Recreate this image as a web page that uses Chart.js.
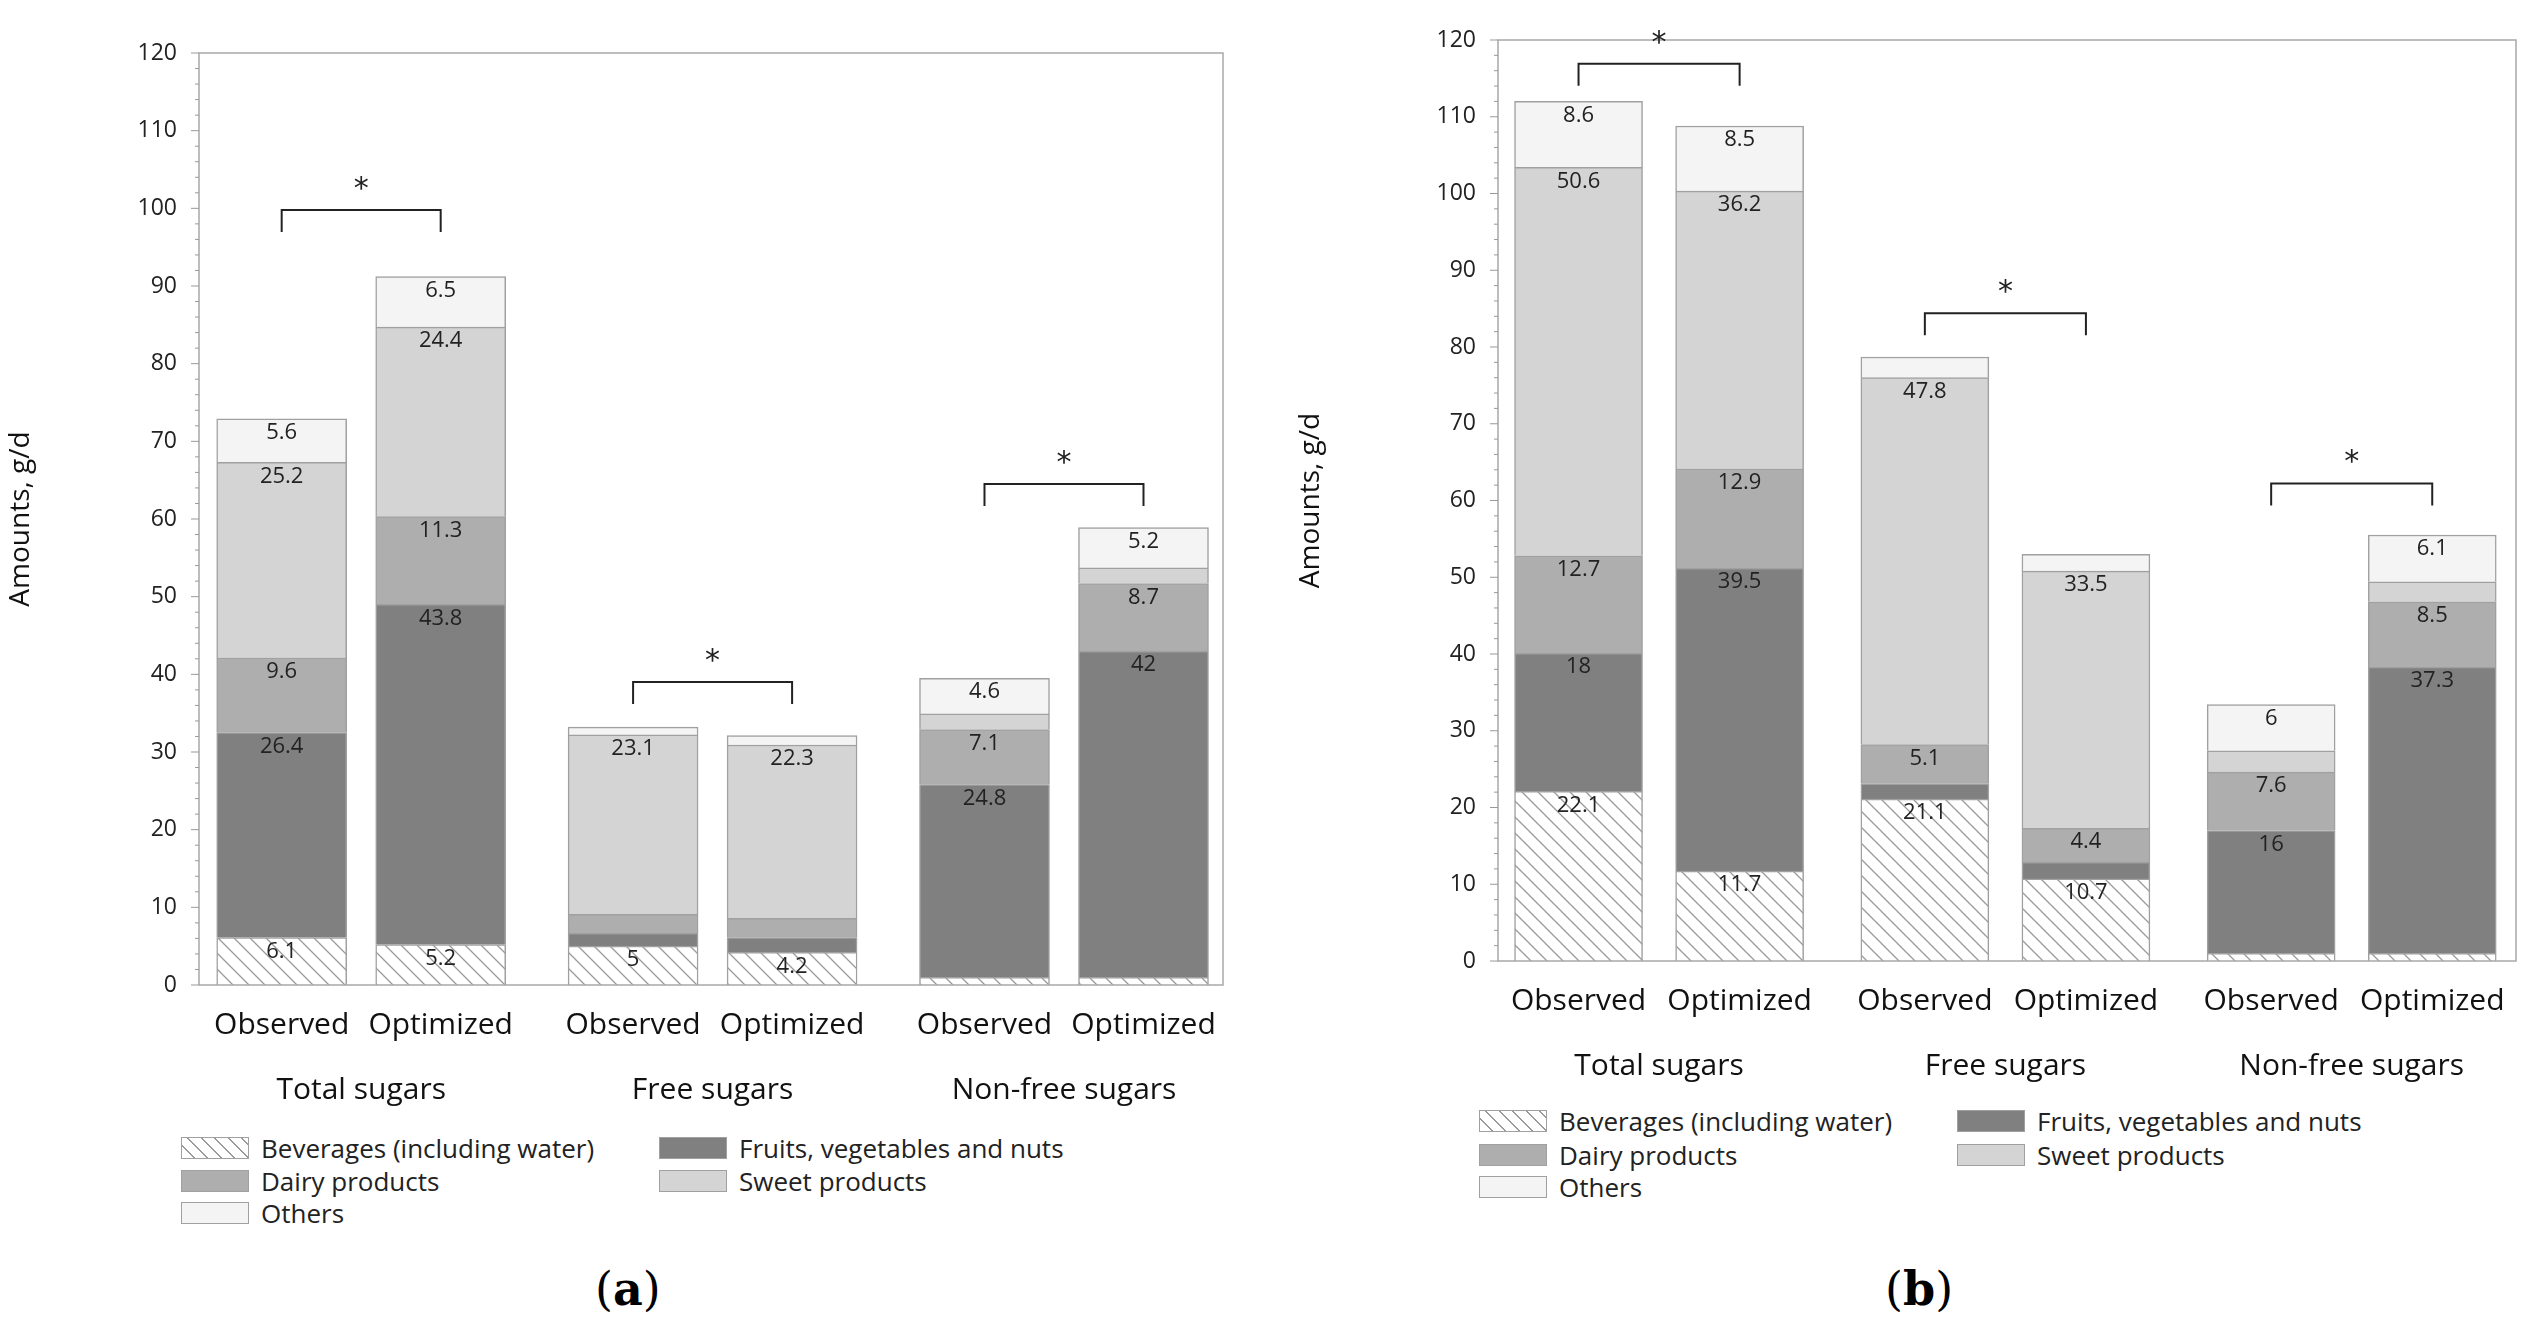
<!DOCTYPE html>
<html><head><meta charset="utf-8">
<script src="https://cdn.jsdelivr.net/npm/chart.js@4"></script>
<style>
body{margin:0;background:#fff;width:2533px;height:1339px;position:relative;overflow:hidden;font-family:"Open Sans",sans-serif;}
canvas{position:absolute;}
.leg{position:absolute;font-size:26px;color:#222;display:flex;align-items:center;}
.sw{width:68px;height:22px;border:1.5px solid #a0a0a0;box-sizing:border-box;margin-right:12px;}
.cap{position:absolute;font-family:"DejaVu Serif",serif;font-size:46px;color:#000;}
</style></head><body>
<div id="wa" style="position:absolute;left:0;top:0;width:1250px;height:1120px"><canvas id="ca"></canvas></div>
<div id="wb" style="position:absolute;left:1290px;top:0;width:1243px;height:1100px"><canvas id="cb"></canvas></div>
<div class="cap" style="left:595px;top:1262px">(<b>a</b>)</div>
<div class="cap" style="left:1885px;top:1262px">(<b>b</b>)</div>
<script>
const seriesNames=['Beverages (including water)','Fruits, vegetables and nuts','Dairy products','Sweet products','Others'];
const barLabels=['Observed','Optimized','Observed','Optimized','Observed','Optimized'];
const groupLabels=['Total sugars','Free sugars','Non-free sugars'];
const yTicks=[0,10,20,30,40,50,60,70,80,90,100,110,120];
// chart (a)
const aBeverages=[6.1,5.2,5,4.2,1.0,1.0];
const aFruits=[26.4,43.8,1.7,1.9,24.8,42];
const aDairy=[9.6,11.3,2.4,2.5,7.1,8.7];
const aSweet=[25.2,24.4,23.1,22.3,2.0,2.0];
const aOthers=[5.6,6.5,1.0,1.2,4.6,5.2];
const aPositions=[0,1,2.21,3.21,4.42,5.42];
const aBrackets=[[0,1,99.8],[2,3,39],[4,5,64.5]];
// chart (b)
const bBeverages=[22.1,11.7,21.1,10.7,1.0,1.0];
const bFruits=[18,39.5,2.0,2.2,16,37.3];
const bDairy=[12.7,12.9,5.1,4.4,7.6,8.5];
const bSweet=[50.6,36.2,47.8,33.5,2.8,2.6];
const bOthers=[8.6,8.5,2.7,2.2,6,6.1];
const bPositions=[0,1,2.15,3.15,4.3,5.3];
const bBrackets=[[0,1,116.9],[2,3,84.4],[4,5,62.2]];

const colors=['#ffffff','#808080','#aeaeae','#d4d4d4','#f4f4f4'];
function hatch(){const c=document.createElement('canvas');c.width=16;c.height=16;const x=c.getContext('2d');
x.fillStyle='#fff';x.fillRect(0,0,16,16);x.strokeStyle='#9a9a9a';x.lineWidth=1.3;x.beginPath();
x.moveTo(-2,-2);x.lineTo(18,18);x.moveTo(14,-2);x.lineTo(18,2);x.moveTo(-2,14);x.lineTo(2,18);x.stroke();
return x.createPattern(c,'repeat');}
const pat=hatch();

function make(id,series,pos,brackets,cfg){
 const datasets=series.map((s,i)=>({label:seriesNames[i],data:s.map((v,j)=>({x:pos[j],y:v})),
  backgroundColor:i===0?pat:colors[i],borderColor:'#a0a0a0',borderWidth:1.5,barThickness:cfg.bw,stack:'s'}));
 const over={id:'over',afterDatasetsDraw(ch){
  const c=ch.ctx,xs=ch.scales.x,ys=ch.scales.y,a=ch.chartArea;
  c.save();
  c.font='22px "Open Sans"';c.fillStyle='#222';c.textAlign='center';c.textBaseline='middle';
  ch.data.datasets.forEach((d,i)=>{const m=ch.getDatasetMeta(i);m.data.forEach((el,j)=>{
   const v=series[i][j];if(v>=3)c.fillText(String(v),el.x,el.y+14);});});
  c.strokeStyle='#a8a8a8';c.lineWidth=1.5;c.strokeRect(a.left,a.top,a.right-a.left,a.bottom-a.top);
  c.strokeStyle='#999';c.lineWidth=1;
  for(let v=0;v<=120;v+=2){const y=ys.getPixelForValue(v);c.beginPath();c.moveTo(a.left,y);c.lineTo(a.left-(v%10===0?8:4),y);c.stroke();}
  c.strokeStyle='#222';c.lineWidth=2;c.fillStyle='#222';c.font='30px "DejaVu Sans"';
  brackets.forEach(b=>{const x1=xs.getPixelForValue(pos[b[0]]),x2=xs.getPixelForValue(pos[b[1]]),y=ys.getPixelForValue(b[2]);
   c.beginPath();c.moveTo(x1,y+22);c.lineTo(x1,y);c.lineTo(x2,y);c.lineTo(x2,y+22);c.stroke();
   c.textBaseline='middle';c.fillText('*',(x1+x2)/2,y-20);});
  c.font='30px "Open Sans"';c.fillStyle='#111';c.textBaseline='middle';
  groupLabels.forEach((g,k)=>{const x=(xs.getPixelForValue(pos[2*k])+xs.getPixelForValue(pos[2*k+1]))/2;c.fillText(g,x,a.bottom+cfg.gy);});
  c.restore();}};
 return new Chart(document.getElementById(id),{type:'bar',data:{datasets},
  options:{responsive:true,maintainAspectRatio:false,animation:false,
   layout:{padding:{top:cfg.top,right:cfg.right,left:0,bottom:0}},
   plugins:{legend:{display:false},tooltip:{enabled:false}},
   scales:{
    x:{type:'linear',min:cfg.min,max:cfg.max,offset:false,grid:{display:false},border:{display:false},
     afterBuildTicks(s){s.ticks=pos.map(v=>({value:v}));},
     afterFit(s){s.height=cfg.xh;},
     ticks:{autoSkip:false,maxRotation:0,padding:14,color:'#111',font:{size:30,family:'Open Sans'},
      callback:(v,i)=>barLabels[i]}},
    y:{stacked:true,min:0,max:120,grid:{display:false},border:{display:false},
     afterBuildTicks(s){s.ticks=yTicks.map(v=>({value:v}));},
     afterFit(s){s.width=cfg.yw;},
     ticks:{padding:14,color:'#222',font:{size:23,family:'Open Sans'}},
     title:{display:true,text:'Amounts, g/d',color:'#111',font:{size:28,family:'Open Sans'},padding:{bottom:cfg.tp}}}}},
  plugins:[over]});
}
make('ca',[aBeverages,aFruits,aDairy,aSweet,aOthers],aPositions,aBrackets,
 {bw:130,min:-0.52,max:5.92,top:53,right:27,xh:135,yw:199,gy:105,tp:70});
make('cb',[bBeverages,bFruits,bDairy,bSweet,bOthers],bPositions,bBrackets,
 {bw:128,min:-0.50,max:5.82,top:40,right:17,xh:139,yw:208,gy:105,tp:80});

function legend(items){items.forEach(([l,t,i])=>{const d=document.createElement('div');d.className='leg';d.style.left=l+'px';d.style.top=t+'px';
 const s=document.createElement('div');s.className='sw';
 s.style.background=i===0?'repeating-linear-gradient(45deg,#fff 0 8px,#9a9a9a 8px 9.5px)':colors[i];
 d.appendChild(s);d.appendChild(document.createTextNode(seriesNames[i]));document.body.appendChild(d);});}
legend([[181,1130,0],[659,1130,1],[181,1163,2],[659,1163,3],[181,1195,4]]);
legend([[1479,1103,0],[1957,1103,1],[1479,1137,2],[1957,1137,3],[1479,1169,4]]);
</script></body></html>
